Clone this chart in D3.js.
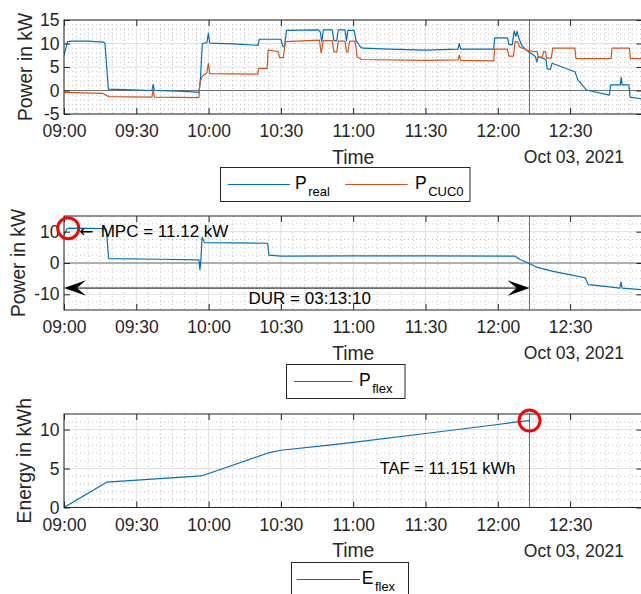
<!DOCTYPE html>
<html><head><meta charset="utf-8">
<script src="https://cdn.jsdelivr.net/npm/d3@7"></script>
<style>
body{margin:0;background:#fff}
svg{display:block}
text{font-family:"Liberation Sans",Arial,Helvetica,sans-serif}
</style>
</head><body>
<svg id="c" width="641" height="594"></svg>
<script>
// ---------------- data ----------------
const xStart = "09:00:00", xEnd = "13:00:00";
const xTickLabels = ["09:00","09:30","10:00","10:30","11:00","11:30","12:00","12:30"];
const dateLabel = "Oct 03, 2021";

const pRealTime = ["09:00:00","09:01:30","09:03:00","09:10:00","09:16:30","09:17:00","09:18:24","09:25:00","09:36:30","09:37:00","09:37:30","09:50:00","09:56:00","09:56:30","09:57:24","09:59:18","09:59:54","10:00:30","10:10:00","10:20:30","10:21:00","10:30:00","10:30:42","10:31:30","10:32:18","10:45:30","10:46:18","10:47:00","10:47:36","10:51:18","10:52:00","10:53:12","10:53:48","10:56:36","10:57:12","10:57:48","11:00:24","11:01:12","11:02:00","11:03:12","11:04:00","11:15:00","11:30:00","11:43:30","11:44:00","11:44:36","11:58:18","11:58:42","12:04:00","12:04:36","12:06:00","12:06:48","12:07:30","12:08:00","12:08:48","12:10:00","12:12:36","12:15:30","12:16:12","12:16:48","12:20:00","12:20:30","12:21:48","12:22:30","12:32:00","12:33:18","12:36:48","12:46:18","12:46:48","12:50:48","12:51:12","12:51:36","12:54:24","12:54:54","13:00:00"];
const pRealVal = [7.5,10.4,10.5,10.5,10.3,10.0,0.3,0.2,0.0,1.3,0.0,-0.2,-0.4,1.5,10.0,10.2,12.2,10.1,9.9,9.6,10.9,10.9,9.5,9.2,12.8,12.9,12.5,10.4,12.9,12.9,10.6,10.6,12.9,12.9,10.6,12.8,12.8,10.6,10.0,9.2,9.0,8.8,8.6,8.8,10.0,8.8,8.8,11.2,11.2,9.8,9.7,12.7,11.5,12.6,11.0,9.5,8.3,7.3,6.1,7.2,6.6,4.6,4.5,5.8,4.0,2.2,0.1,-1.0,1.2,1.2,2.8,1.2,1.2,-1.4,-1.8];

const pCucTime = ["09:00:00","09:16:00","09:18:30","09:36:30","09:37:00","09:37:30","09:56:00","09:56:18","09:57:24","09:59:18","09:59:54","10:00:30","10:20:24","10:20:48","10:24:18","10:24:42","10:28:48","10:29:30","10:31:00","10:31:48","10:46:00","10:46:42","10:47:36","10:51:18","10:52:00","10:53:12","10:53:48","10:56:36","10:57:12","10:57:48","10:58:30","11:00:48","11:01:36","11:03:30","11:30:00","11:43:30","11:44:00","11:44:36","11:58:18","11:58:42","12:04:00","12:04:36","12:06:30","12:07:12","12:08:12","12:09:00","12:11:54","12:14:36","12:16:18","12:16:48","12:18:30","12:19:00","12:19:48","12:20:12","12:22:12","12:22:48","12:32:00","12:32:24","12:47:00","12:47:24","12:54:36","12:55:00","13:00:00"];
const pCucVal = [-0.4,-0.6,-1.3,-1.4,0.3,-1.4,-1.5,1.5,3.1,3.8,5.8,3.6,3.5,4.7,4.7,8.6,8.3,7.0,7.0,10.4,10.7,8.0,10.6,10.6,8.2,8.2,10.5,10.5,8.2,8.2,10.5,10.5,7.2,6.6,6.4,6.5,7.5,6.4,6.3,8.8,8.8,7.3,7.3,10.4,10.4,9.3,8.6,8.3,8.3,7.1,7.1,8.3,8.3,6.9,6.9,9.0,9.0,6.8,6.8,9.0,9.0,6.8,6.8];

const pFlexTime = ["09:00:00","09:01:12","09:02:00","09:17:00","09:17:36","09:18:30","09:40:00","09:56:00","09:56:24","09:56:48","09:57:18","09:58:18","10:10:00","10:24:30","10:25:00","10:30:00","11:00:00","11:30:00","12:07:00","12:09:12","12:12:36","12:16:00","12:22:54","12:29:48","12:36:18","12:37:30","12:43:42","12:50:36","12:51:06","12:51:36","13:00:00"];
const pFlexVal = [8.8,10.9,11.1,11.0,10.7,1.4,1.2,1.0,-2.1,1.0,8.3,6.5,6.4,6.3,2.5,2.2,2.3,2.3,2.2,1.1,0.0,-1.3,-2.65,-3.7,-4.7,-6.9,-7.4,-8.0,-6.1,-8.0,-8.5];

const eFlexTime = ["09:00:00","09:17:42","09:57:00","10:24:42","10:30:00","10:50:00","11:00:00","11:30:00","12:00:00","12:07:00","12:13:10"];
const eFlexVal = [0,3.25,4.05,7.0,7.35,8.0,8.35,9.5,10.65,10.95,11.151];

const mpcTime = "09:01:45", mpcVal = 11.12, mpcLabel = "MPC = 11.12 kW";
const durStart = "09:00:00", durEnd = "12:13:10", durLevel = -8, durLabel = "DUR = 03:13:10";
const tafTime = "12:13:10", tafVal = 11.151, tafLabel = "TAF = 11.151 kWh";
const markerTime = "12:13:10";

// ---------------- helpers ----------------
const toDate = s => { const [h,m,sec] = s.split(":").map(Number); return new Date(2021, 9, 3, h, m, sec || 0); };
const BLUE = "#0072BD", ORANGE = "#D95319", AX = "#262626";
const svg = d3.select("#c");
const x = d3.scaleTime().domain([toDate(xStart), toDate(xEnd)]).range([64, 642.4]);
const xTicks = xTickLabels.map(t => toDate(t + ":00"));
const X0 = x.range()[0], X1 = x.range()[1];
const defs = svg.append("defs");

function drawPanel(p) {
  const y = d3.scaleLinear().domain(p.yDomain).range([p.bottom, p.top]);
  const g = svg.append("g");
  defs.append("clipPath").attr("id", "clip" + p.id)
    .append("rect").attr("x", X0).attr("y", p.top).attr("width", X1 - X0).attr("height", p.bottom - p.top);
  // minor grid
  const minorX = d3.timeMinute.every(5).range(x.domain()[0], x.domain()[1]).filter(d => d.getMinutes() % 30 !== 0);
  g.selectAll(".mx").data(minorX).join("line")
    .attr("x1", d => x(d)).attr("x2", d => x(d)).attr("y1", p.top).attr("y2", p.bottom)
    .attr("stroke", "#c2c2c2").attr("stroke-width", 1).attr("stroke-dasharray", "1 3");
  const minorY = d3.range(p.yDomain[0], p.yDomain[1] + 1e-9, p.minorStep)
    .filter(v => !p.yTicks.some(t => Math.abs(t - v) < 1e-9) && v > p.yDomain[0] && v < p.yDomain[1]);
  g.selectAll(".my").data(minorY).join("line")
    .attr("x1", X0).attr("x2", X1).attr("y1", d => y(d)).attr("y2", d => y(d))
    .attr("stroke", "#c2c2c2").attr("stroke-width", 1).attr("stroke-dasharray", "1 3");
  // major grid
  g.selectAll(".gx").data(xTicks).join("line")
    .attr("x1", d => x(d)).attr("x2", d => x(d)).attr("y1", p.top).attr("y2", p.bottom)
    .attr("stroke", "#e0e0e0").attr("stroke-width", 1);
  g.selectAll(".gy").data(p.yTicks).join("line")
    .attr("x1", X0).attr("x2", X1).attr("y1", d => y(d)).attr("y2", d => y(d))
    .attr("stroke", "#e0e0e0").attr("stroke-width", 1);
  // zero line
  if (p.zeroLine) {
    g.append("line").attr("x1", X0).attr("x2", X1).attr("y1", y(0)).attr("y2", y(0))
      .attr("stroke", "#6f6f6f").attr("stroke-width", 1);
  }
  // marker vertical line
  g.append("line").attr("x1", x(toDate(markerTime))).attr("x2", x(toDate(markerTime)))
    .attr("y1", p.top).attr("y2", p.bottom).attr("stroke", "#6f6f6f").attr("stroke-width", 1);
  // series
  const line = d3.line().x(d => x(d[0])).y(d => y(d[1]));
  p.series.forEach(s => {
    const data = s.t.map((t, i) => [toDate(t), s.v[i]]);
    g.append("path").datum(data).attr("d", line).attr("fill", "none")
      .attr("stroke", s.color).attr("stroke-width", 1.2).attr("stroke-linejoin", "round")
      .attr("clip-path", `url(#clip${p.id})`);
  });
  // axes
  const fmt = d3.timeFormat("%H:%M");
  const xb = g.append("g").attr("transform", `translate(0,${p.bottom})`)
    .call(d3.axisBottom(x).tickValues(xTicks).tickFormat(fmt).tickSizeInner(-6).tickSizeOuter(0).tickPadding(11));
  const xt = g.append("g").attr("transform", `translate(0,${p.top})`)
    .call(d3.axisTop(x).tickValues(xTicks).tickFormat("").tickSizeInner(-6).tickSizeOuter(0));
  const yl = g.append("g").attr("transform", `translate(${X0},0)`)
    .call(d3.axisLeft(y).tickValues(p.yTicks).tickFormat(d => String(d)).tickSizeInner(-6).tickSizeOuter(0).tickPadding(4.5));
  const yr = g.append("g").attr("transform", `translate(${X1},0)`)
    .call(d3.axisRight(y).tickValues(p.yTicks).tickFormat("").tickSizeInner(-6).tickSizeOuter(0));
  [xb, xt, yl, yr].forEach(a => {
    a.select(".domain").remove();
    a.selectAll("line").attr("stroke", AX);
    a.selectAll("text").attr("fill", AX).attr("font-size", 17.5)
      .attr("font-family", '"Liberation Sans",Arial,sans-serif');
  });
  // box
  g.append("rect").attr("x", X0).attr("y", p.top).attr("width", X1 - X0).attr("height", p.bottom - p.top)
    .attr("fill", "none").attr("stroke", AX).attr("stroke-width", 1);
  // labels
  g.append("text").attr("transform", `translate(${p.yLabelX},${(p.top + p.bottom) / 2}) rotate(-90)`)
    .attr("text-anchor", "middle").attr("font-size", 19.3).attr("fill", AX).text(p.yLabel);
  g.append("text").attr("x", (X0 + X1) / 2).attr("y", p.bottom + 49.5)
    .attr("text-anchor", "middle").attr("font-size", 19.3).attr("fill", AX).text("Time");
  g.append("text").attr("x", 624).attr("y", p.bottom + 49.2)
    .attr("text-anchor", "end").attr("font-size", 17.5).attr("fill", AX).text(dateLabel);
  return y;
}

function legend(box, items) {
  const g = svg.append("g");
  g.append("rect").attr("x", box[0]).attr("y", box[1]).attr("width", box[2]).attr("height", box[3])
    .attr("fill", "#fff").attr("stroke", AX).attr("stroke-width", 1);
  items.forEach(it => {
    const cy = box[1] + 17;
    g.append("line").attr("x1", it.x1).attr("x2", it.x2).attr("y1", cy).attr("y2", cy)
      .attr("stroke", it.color).attr("stroke-width", 1.2);
    const t = g.append("text").attr("x", it.tx).attr("y", cy + 4).attr("font-size", 17.5).attr("fill", "#000");
    t.append("tspan").text(it.main);
    t.append("tspan").attr("dx", 1.5).attr("dy", 7.2).attr("font-size", 13).text(it.sub);
  });
}

// ---------------- panel 1 ----------------
drawPanel({id: 1, top: 20, bottom: 114, yDomain: [-5, 15], yTicks: [-5, 0, 5, 10, 15], minorStep: 1,
  yLabel: "Power in kW", yLabelX: 31.5, zeroLine: true,
  series: [{t: pRealTime, v: pRealVal, color: BLUE}, {t: pCucTime, v: pCucVal, color: ORANGE}]});
legend([220.5, 167.5, 249.5, 34], [
  {x1: 227.7, x2: 290, tx: 295, color: BLUE, main: "P", sub: "real"},
  {x1: 345, x2: 407.7, tx: 415, color: ORANGE, main: "P", sub: "CUC0"}]);

// ---------------- panel 2 ----------------
const y2 = drawPanel({id: 2, top: 216, bottom: 310, yDomain: [-15, 15], yTicks: [-10, 0, 10], minorStep: 2.5,
  yLabel: "Power in kW", yLabelX: 25, zeroLine: true,
  series: [{t: pFlexTime, v: pFlexVal, color: BLUE}]});
legend([286.5, 364.5, 118.5, 34], [{x1: 294, x2: 352.7, tx: 359, color: BLUE, main: "P", sub: "flex"}]);

// DUR double arrow
{
  const yy = y2(durLevel), xa = x(toDate(durStart)), xb = x(toDate(durEnd));
  const L = 22, Wd = 7.8, N = 13;
  svg.append("line").attr("x1", xa + N).attr("x2", xb - N).attr("y1", yy).attr("y2", yy)
    .attr("stroke", "#000").attr("stroke-width", 1);
  svg.append("path").attr("d", `M${xa},${yy} L${xa + L},${yy - Wd} L${xa + N},${yy} L${xa + L},${yy + Wd} Z`).attr("fill", "#000");
  svg.append("path").attr("d", `M${xb},${yy} L${xb - L},${yy - Wd} L${xb - N},${yy} L${xb - L},${yy + Wd} Z`).attr("fill", "#000");
  svg.append("text").attr("x", (xa + xb) / 2 + 13).attr("y", yy + 16.3).attr("text-anchor", "middle")
    .attr("font-size", 17).attr("fill", "#000").text(durLabel);
}
// MPC marker
{
  const cx = x(toDate(mpcTime)), cy = y2(mpcVal);
  svg.append("circle").attr("cx", cx).attr("cy", cy).attr("r", 10.5).attr("fill", "none")
    .attr("stroke", "#ff0000").attr("stroke-width", 3);
  const t = svg.append("text").attr("x", cx + 11).attr("y", cy + 9).attr("font-size", 17).attr("fill", "#000");
  t.append("tspan").attr("font-family", '"DejaVu Sans",sans-serif').text("\u2190");
  t.append("tspan").attr("dx", 2.5).text(" " + mpcLabel);
}

// ---------------- panel 3 ----------------
const y3 = drawPanel({id: 3, top: 414, bottom: 507.5, yDomain: [0, 12], yTicks: [0, 5, 10], minorStep: 1,
  yLabel: "Energy in kWh", yLabelX: 31, zeroLine: false,
  series: [{t: eFlexTime, v: eFlexVal, color: BLUE}]});
legend([291.5, 562.5, 117, 34], [{x1: 296.7, x2: 360, tx: 361.7, color: BLUE, main: "E", sub: "flex"}]);
{
  const cx = x(toDate(tafTime)), cy = y3(tafVal);
  svg.append("circle").attr("cx", cx).attr("cy", cy).attr("r", 10.5).attr("fill", "none")
    .attr("stroke", "#ff0000").attr("stroke-width", 3);
  svg.append("text").attr("x", cx - 82).attr("y", cy + 53.5).attr("text-anchor", "middle")
    .attr("font-size", 16.5).attr("fill", "#000").text(tafLabel);
}
</script>
</body></html>
